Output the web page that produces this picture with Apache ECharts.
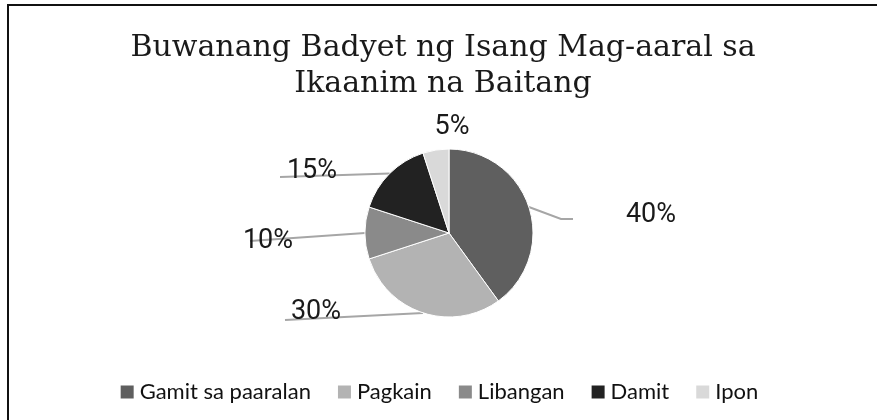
<!DOCTYPE html>
<html>
<head>
<meta charset="utf-8">
<script src="https://cdn.jsdelivr.net/npm/echarts@6/dist/echarts.min.js"></script>
<style>
  html, body { margin: 0; padding: 0; background: #fff; }
  #chart { width: 877px; height: 420px; }
</style>
</head>
<body>
<div id="chart"></div>
<script>
// kategorya at bahagdan
const categories = ['Gamit sa paaralan', 'Pagkain', 'Libangan', 'Damit', 'Ipon'];
const values = [40, 30, 10, 15, 5];
const colors = ['#5f5f5f', '#b3b3b3', '#8a8a8a', '#222222', '#d9d9d9'];

// label placement (center of text) and far end of leader line, per slice
const labelPos = [[651, 215], [316, 312], [268, 241], [312, 171], [452, 127]];
const lineEnds = [[[561, 219], [573, 219]], [[285, 320], [285, 320]], [[250, 241], [250, 241]], [[280, 177], [280, 177]], null];

const chart = echarts.init(document.getElementById('chart'));

const option = {
  animation: false,
  backgroundColor: '#fff',
  title: {
    text: 'Buwanang Badyet ng Isang Mag-aaral sa\nIkaanim na Baitang',
    left: 438,
    top: 25,
    textAlign: 'center',
    textStyle: {
      fontFamily: 'DejaVu Serif',
      fontWeight: 'normal',
      fontSize: 30,
      lineHeight: 36,
      color: '#1a1a1a'
    }
  },
  legend: {
    left: 'center',
    top: 376,
    icon: 'rect',
    itemWidth: 15,
    itemHeight: 15,
    itemGap: 25,
    textStyle: { fontFamily: 'Lato', fontSize: 22, color: '#111' },
    data: categories
  },
  graphic: [{
    type: 'rect',
    shape: { x: 8, y: 5, width: 900, height: 450 },
    style: { fill: 'none', stroke: '#111', lineWidth: 2 },
    silent: true
  }],
  series: [{
    type: 'pie',
    center: [449, 233],
    radius: 84,
    startAngle: 90,
    clockwise: true,
    label: {
      show: true,
      formatter: '{c}%',
      fontFamily: 'Roboto',
      fontSize: 27,
      color: '#1a1a1a'
    },
    labelLine: {
      show: true,
      smooth: false,
      lineStyle: { color: '#a6a6a6', width: 2 }
    },
    labelLayout: function (params) {
      const i = params.dataIndex;
      const p = labelPos[i];
      const out = { x: p[0], y: p[1], align: 'center', verticalAlign: 'middle' };
      if (lineEnds[i] && params.labelLinePoints) {
        out.labelLinePoints = [params.labelLinePoints[0], lineEnds[i][0], lineEnds[i][1]];
      } else {
        out.labelLinePoints = [[p[0], p[1]], [p[0], p[1]], [p[0], p[1]]];
      }
      return out;
    },
    itemStyle: { borderColor: '#fff', borderWidth: 1 },
    data: categories.map((name, i) => ({
      name: name,
      value: values[i],
      itemStyle: { color: colors[i] }
    }))
  }]
};

chart.setOption(option);
</script>
</body>
</html>
